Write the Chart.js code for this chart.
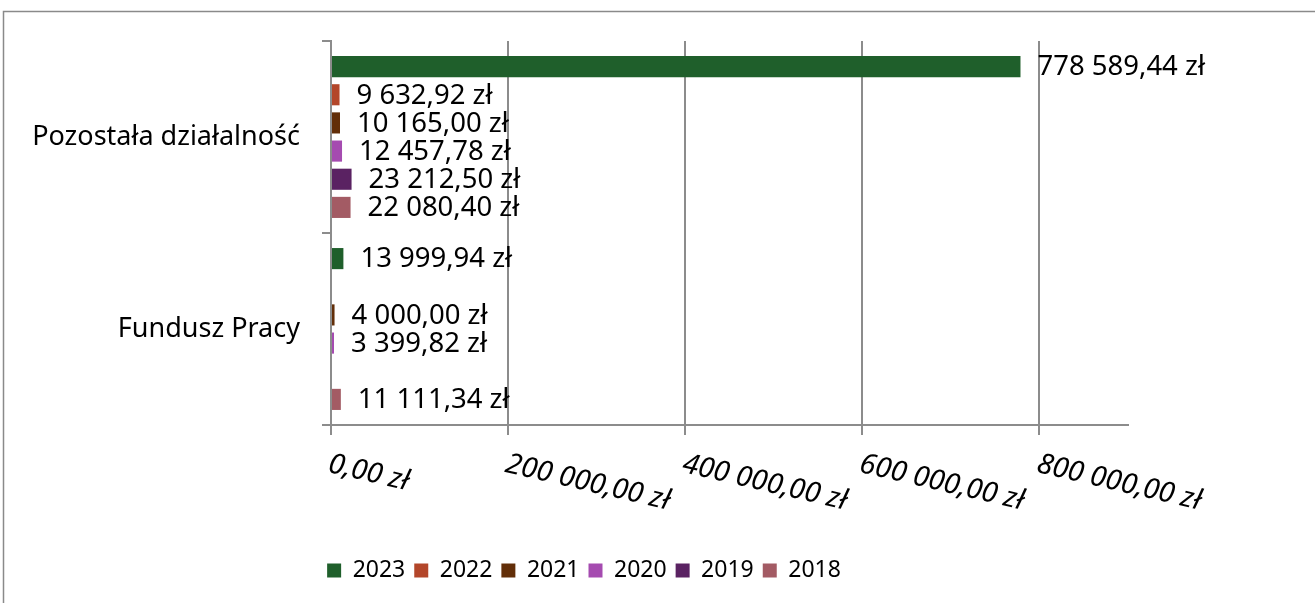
<!DOCTYPE html>
<html>
<head>
<meta charset="utf-8">
<script src="https://cdn.jsdelivr.net/npm/chart.js@4/dist/chart.umd.min.js"></script>
<style>
  body { margin: 0; background: #fff; }
  #chart { display: block; }
</style>
</head>
<body>
<canvas id="chart" width="1315" height="603"></canvas>
<script>
const categories = ['Pozostała działalność', 'Fundusz Pracy'];
const years = ['2023', '2022', '2021', '2020', '2019', '2018'];
const values2023 = [778589.44, 13999.94];
const values2022 = [9632.92, null];
const values2021 = [10165.00, 4000.00];
const values2020 = [12457.78, 3399.82];
const values2019 = [23212.50, null];
const values2018 = [22080.40, 11111.34];
const xTicks = [0, 200000, 400000, 600000, 800000];
const colors = ['#1f5f2b', '#b3462a', '#622e08', '#a54bb0', '#5a2262', '#a35b64'];

const FONT = "'Noto Sans', sans-serif";

// 1234567.8 -> "1 234 567,80 zł"
function zl(v) {
    const parts = v.toFixed(2).split('.');
    const intPart = parts[0].replace(/\B(?=(\d{3})+(?!\d))/g, ' ');
    return intPart + ',' + parts[1] + ' zł';
}

const allValues = [values2023, values2022, values2021, values2020, values2019, values2018];
const datasets = years.map((y, i) => ({
    label: y,
    data: allValues[i],
    backgroundColor: colors[i],
    borderWidth: 0,
    categoryPercentage: 0.88,
    barPercentage: 0.75
}));

const framePlugin = {
    id: 'frame',
    beforeDraw(chart) {
        const c = chart.ctx;
        c.save();
        c.strokeStyle = '#8a8a8a';
        c.lineWidth = 1.5;
        c.strokeRect(3.5, 11.5, 1400, 700);
        c.restore();
    }
};

// nudge the legend right so it sits under the middle of the whole frame
const legendShift = {
    id: 'legendShift',
    afterLayout(chart) {
        chart.legend.left += 20;
        chart.legend.right += 20;
    }
};

const valueLabels = {
    id: 'valueLabels',
    afterDatasetsDraw(chart) {
        const c = chart.ctx;
        c.save();
        c.font = '27.5px ' + FONT;
        c.fillStyle = '#000';
        c.textBaseline = 'middle';
        c.textAlign = 'left';
        chart.data.datasets.forEach((ds, i) => {
            const meta = chart.getDatasetMeta(i);
            meta.data.forEach((bar, j) => {
                const v = ds.data[j];
                if (v === null) return;
                c.fillText(zl(v), bar.x + 17, bar.y + 1);
            });
        });
        c.restore();
    }
};

// slanted value-axis labels, running down to the right from each tick
const slantedTicks = {
    id: 'slantedTicks',
    afterDraw(chart) {
        const scale = chart.scales.x;
        const c = chart.ctx;
        c.save();
        c.font = 'italic 28.5px ' + FONT;
        c.fillStyle = '#000';
        c.textAlign = 'left';
        c.textBaseline = 'top';
        scale.ticks.forEach(t => {
            const x = scale.getPixelForValue(t.value);
            c.save();
            c.translate(x + 1, scale.top + 25);
            c.rotate(13 * Math.PI / 180);
            c.fillText(zl(t.value), 0, 0);
            c.restore();
        });
        c.restore();
    }
};

new Chart(document.getElementById('chart'), {
    type: 'bar',
    data: { labels: categories, datasets: datasets },
    plugins: [framePlugin, legendShift, valueLabels, slantedTicks],
    options: {
        indexAxis: 'y',
        responsive: false,
        animation: false,
        layout: { padding: { top: 41, right: 187, bottom: 11, left: 0 } },
        plugins: {
            tooltip: { enabled: false },
            legend: {
                position: 'bottom',
                labels: {
                    boxWidth: 14,
                    boxHeight: 14,
                    padding: 9,
                    color: '#000',
                    font: { family: FONT, size: 23 }
                }
            }
        },
        scales: {
            x: {
                min: 0,
                max: 900000,
                afterBuildTicks: s => { s.ticks = xTicks.map(v => ({ value: v })); },
                afterFit: s => { s.height = 125; },
                ticks: { display: false },
                grid: { color: '#8c8c8c', lineWidth: 2, tickLength: 10 },
                border: { color: '#8c8c8c', width: 2 }
            },
            y: {
                afterFit: s => { s.width = 331; },
                ticks: {
                    color: '#000',
                    padding: 22,
                    font: { family: FONT, size: 27 }
                },
                grid: { drawOnChartArea: false, color: '#8c8c8c', lineWidth: 2, tickLength: 9 },
                border: { color: '#8c8c8c', width: 2 }
            }
        }
    }
});
</script>
</body>
</html>
